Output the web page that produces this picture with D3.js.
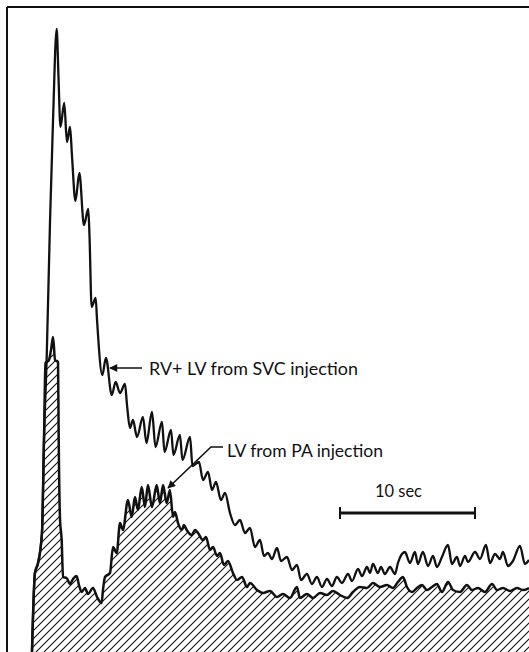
<!DOCTYPE html>
<html>
<head>
<meta charset="utf-8">
<script src="https://cdn.jsdelivr.net/npm/d3@7"></script>
<style>
  html, body { margin: 0; padding: 0; background: #fff; }
  svg { display: block; }
</style>
</head>
<body>
<svg id="chart" width="529" height="652"></svg>
<script>
// ---- Data (time in seconds, deflection in arbitrary units) ----
// RV + LV curve from SVC injection: [time s, deflection]
const svcInjection = [
  [1.85,0],[2.07,15.8],[2.30,17.8],[2.59,23.8],[2.74,42.4],[2.93,57.8],[3.19,86.4],[3.41,106.4],
  [3.68,124.6],[3.81,115.4],[3.96,105.0],[4.24,109.8],[4.44,102.0],[4.67,105.0],[4.81,99.4],
  [5.07,90.2],[5.36,95.8],[5.70,85.4],[6.02,88.6],[6.11,83.4],[6.27,69.0],[6.57,70.8],[6.67,66.4],
  [7.06,55.4],[7.33,58.8],[7.76,51.4],[8.05,54.0],[8.37,51.8],[8.74,53.6],[8.89,49.4],[9.11,44.8],
  [9.33,46.4],[9.63,43.0],[10.07,47.0],[10.33,41.8],[10.74,48.0],[11.00,41.0],[11.48,46.0],
  [11.67,40.0],[12.15,44.4],[12.33,39.4],[12.81,43.4],[13.00,38.4],[13.56,43.0],[13.74,37.2],
  [14.22,38.0],[14.52,34.4],[14.89,36.0],[15.19,32.4],[15.48,34.0],[15.85,30.4],[16.15,31.8],
  [16.52,27.8],[16.89,25.4],[17.26,26.4],[17.63,23.8],[18.00,24.8],[18.37,21.0],[18.74,22.4],
  [19.04,19.2],[19.33,19.8],[19.63,18.6],[20.00,20.8],[20.30,18.2],[20.74,19.0],[21.11,16.4],
  [21.48,17.4],[21.78,14.4],[22.22,15.6],[22.59,13.6],[22.96,15.0],[23.33,13.0],[23.70,14.6],
  [24.07,13.2],[24.44,15.0],[24.81,13.8],[25.26,15.6],[25.56,14.2],[26.00,16.6],[26.30,15.2],
  [26.67,17.0],[26.89,15.8],[27.11,17.6],[27.48,15.8],[27.70,17.0],[28.00,15.6],[28.37,17.0],
  [28.74,15.6],[28.96,17.8],[29.48,20.0],[29.85,17.8],[30.22,20.0],[30.44,17.6],[30.81,20.0],
  [31.19,17.2],[31.56,19.2],[31.85,17.0],[32.22,19.0],[32.67,21.4],[32.96,17.6],[33.33,19.0],
  [33.56,17.2],[33.93,19.2],[34.15,18.0],[34.67,20.0],[35.04,18.6],[35.48,21.4],[35.78,17.8],
  [36.15,19.6],[36.52,18.6],[36.74,20.0],[37.11,17.2],[37.48,18.2],[38.00,21.2],[38.37,17.6],
  [38.67,18.4]
];

// LV curve from PA injection (hatched): [time s, deflection]
const paInjection = [
  [1.85,0],[2.07,15.8],[2.30,17.8],[2.59,23.8],[2.74,42.4],[2.85,57.8],[3.11,58.4],[3.26,60.4],
  [3.41,63.0],[3.56,58.4],[3.78,58.0],[3.83,42.4],[3.93,26.4],[4.05,22.4],[4.15,15.0],[4.42,14.8],
  [4.67,13.6],[4.89,14.6],[5.16,15.2],[5.33,13.4],[5.53,12.0],[5.78,12.8],[6.00,11.6],[6.37,12.8],
  [6.67,11.0],[7.01,9.8],[7.11,12.4],[7.26,15.0],[7.63,15.8],[7.85,21.0],[8.13,19.8],[8.37,25.8],
  [8.59,24.4],[8.96,30.4],[9.24,27.0],[9.48,31.0],[9.70,28.4],[9.98,33.0],[10.22,29.0],
  [10.44,33.4],[10.74,29.0],[11.09,33.4],[11.33,29.8],[11.56,33.4],[11.83,29.8],[12.07,32.4],
  [12.30,27.0],[12.44,28.0],[12.67,25.8],[12.94,24.4],[13.11,25.4],[13.31,24.4],[13.68,23.4],
  [13.93,24.4],[14.15,23.8],[14.52,22.4],[14.74,23.0],[15.04,20.4],[15.26,21.0],[15.56,19.2],
  [15.78,19.8],[16.07,17.4],[16.37,18.2],[16.74,15.8],[17.04,14.4],[17.41,15.0],[17.78,13.0],
  [18.00,13.8],[18.52,12.4],[18.96,11.8],[19.48,12.2],[20.00,11.0],[20.44,11.6],[20.96,10.8],
  [21.48,13.0],[21.70,10.8],[22.22,11.6],[22.67,10.8],[23.19,11.8],[23.70,11.4],[24.15,12.2],
  [24.67,11.4],[25.19,10.8],[25.63,12.0],[26.15,13.0],[26.67,12.8],[27.11,13.8],[27.63,13.0],
  [28.15,13.4],[28.59,12.8],[28.96,14.0],[29.33,15.0],[29.63,13.0],[30.00,12.0],[30.37,12.8],
  [30.74,13.4],[31.11,12.4],[31.48,13.0],[31.85,13.6],[32.22,12.0],[32.67,14.0],[33.04,12.4],
  [33.56,12.0],[34.07,13.4],[34.44,12.4],[34.89,12.8],[35.41,12.0],[35.93,13.6],[36.30,12.4],
  [36.74,12.8],[37.26,12.2],[37.78,12.8],[38.22,12.4],[38.67,12.8]
];

// Labels and annotation anchors (data units)
const labelTexts = ["RV+ LV from SVC injection", "LV from PA injection", "10 sec"];
const svcLabelAnchor = [10.52, 55.4];
const svcArrow = [[10.0, 56.8], [7.63, 56.8]];
const paLabelAnchor = [16.30, 39.0];
const paArrow = [[16.0, 41.0], [15.11, 41.0], [11.93, 32.8]];
const scaleBarSec = [24.67, 34.67];   // a 10-second bar
const scaleBarLevel = 27.8;
const scaleLabelAnchor = [27.26, 31.0];

// Domains
const timeDomain = [0, 38.67];
const valueDomain = [0, 129];

// ---- Drawing ----
const svg = d3.select("#chart");
const W = 529, H = 652;
const x = d3.scaleLinear().domain(timeDomain).range([7, W]);
const y = d3.scaleLinear().domain(valueDomain).range([H, 7]);

const defs = svg.append("defs");
const pat = defs.append("pattern")
  .attr("id", "hatch").attr("patternUnits", "userSpaceOnUse")
  .attr("width", 8).attr("height", 8);
pat.append("path")
  .attr("d", "M-2,2 l4,-4 M0,8 l8,-8 M6,10 l4,-4")
  .attr("stroke", "#111").attr("stroke-width", 1.1);

const marker = defs.append("marker")
  .attr("id", "arrow").attr("viewBox", "0 0 10 10")
  .attr("refX", 9).attr("refY", 5)
  .attr("markerWidth", 11).attr("markerHeight", 8)
  .attr("markerUnits", "userSpaceOnUse")
  .attr("orient", "auto");
marker.append("path").attr("d", "M0,0 L10,5 L0,10 Z").attr("fill", "#111");

// frame
svg.append("line").attr("x1", x(0)).attr("x2", x(0)).attr("y1", y(129)).attr("y2", H)
  .attr("stroke", "#111").attr("stroke-width", 2);
svg.append("line").attr("x1", x(0)).attr("x2", W).attr("y1", y(129)).attr("y2", y(129))
  .attr("stroke", "#111").attr("stroke-width", 2);

const curve = d3.curveMonotoneX;
const area = d3.area().x(d => x(d[0])).y0(y(0)).y1(d => y(d[1])).curve(curve);
const line = d3.line().x(d => x(d[0])).y(d => y(d[1])).curve(curve);

svg.append("path").datum(paInjection).attr("d", area).attr("fill", "url(#hatch)");

svg.append("path").datum(svcInjection).attr("d", line)
  .attr("fill", "none").attr("stroke", "#111").attr("stroke-width", 2.3)
  .attr("stroke-linejoin", "round");
svg.append("path").datum(paInjection).attr("d", line)
  .attr("fill", "none").attr("stroke", "#111").attr("stroke-width", 2.5)
  .attr("stroke-linejoin", "round");

// annotations
const font = "Lato, 'Open Sans', sans-serif";
svg.append("path").datum(svcArrow).attr("d", d3.line().x(d => x(d[0])).y(d => y(d[1])))
  .attr("fill", "none").attr("stroke", "#111").attr("stroke-width", 1.6)
  .attr("marker-end", "url(#arrow)");
svg.append("text").attr("x", x(svcLabelAnchor[0])).attr("y", y(svcLabelAnchor[1]))
  .attr("font-family", font).attr("font-size", 18).attr("fill", "#111")
  .attr("textLength", 209).attr("lengthAdjust", "spacingAndGlyphs")
  .text(labelTexts[0]);

svg.append("path").datum(paArrow).attr("d", d3.line().x(d => x(d[0])).y(d => y(d[1])))
  .attr("fill", "none").attr("stroke", "#111").attr("stroke-width", 1.6)
  .attr("marker-end", "url(#arrow)");
svg.append("text").attr("x", x(paLabelAnchor[0])).attr("y", y(paLabelAnchor[1]))
  .attr("font-family", font).attr("font-size", 18).attr("fill", "#111")
  .attr("textLength", 156).attr("lengthAdjust", "spacingAndGlyphs")
  .text(labelTexts[1]);

// scale bar
svg.append("line").attr("x1", x(scaleBarSec[0])).attr("x2", x(scaleBarSec[1]))
  .attr("y1", y(scaleBarLevel)).attr("y2", y(scaleBarLevel))
  .attr("stroke", "#111").attr("stroke-width", 3);
scaleBarSec.forEach(t => {
  svg.append("line").attr("x1", x(t)).attr("x2", x(t))
    .attr("y1", y(scaleBarLevel) - 6).attr("y2", y(scaleBarLevel) + 6)
    .attr("stroke", "#111").attr("stroke-width", 2);
});
svg.append("text").attr("x", x(scaleLabelAnchor[0])).attr("y", y(scaleLabelAnchor[1]))
  .attr("font-family", font).attr("font-size", 17).attr("fill", "#111")
  .attr("textLength", 47).attr("lengthAdjust", "spacingAndGlyphs")
  .text(labelTexts[2]);
</script>
</body>
</html>
